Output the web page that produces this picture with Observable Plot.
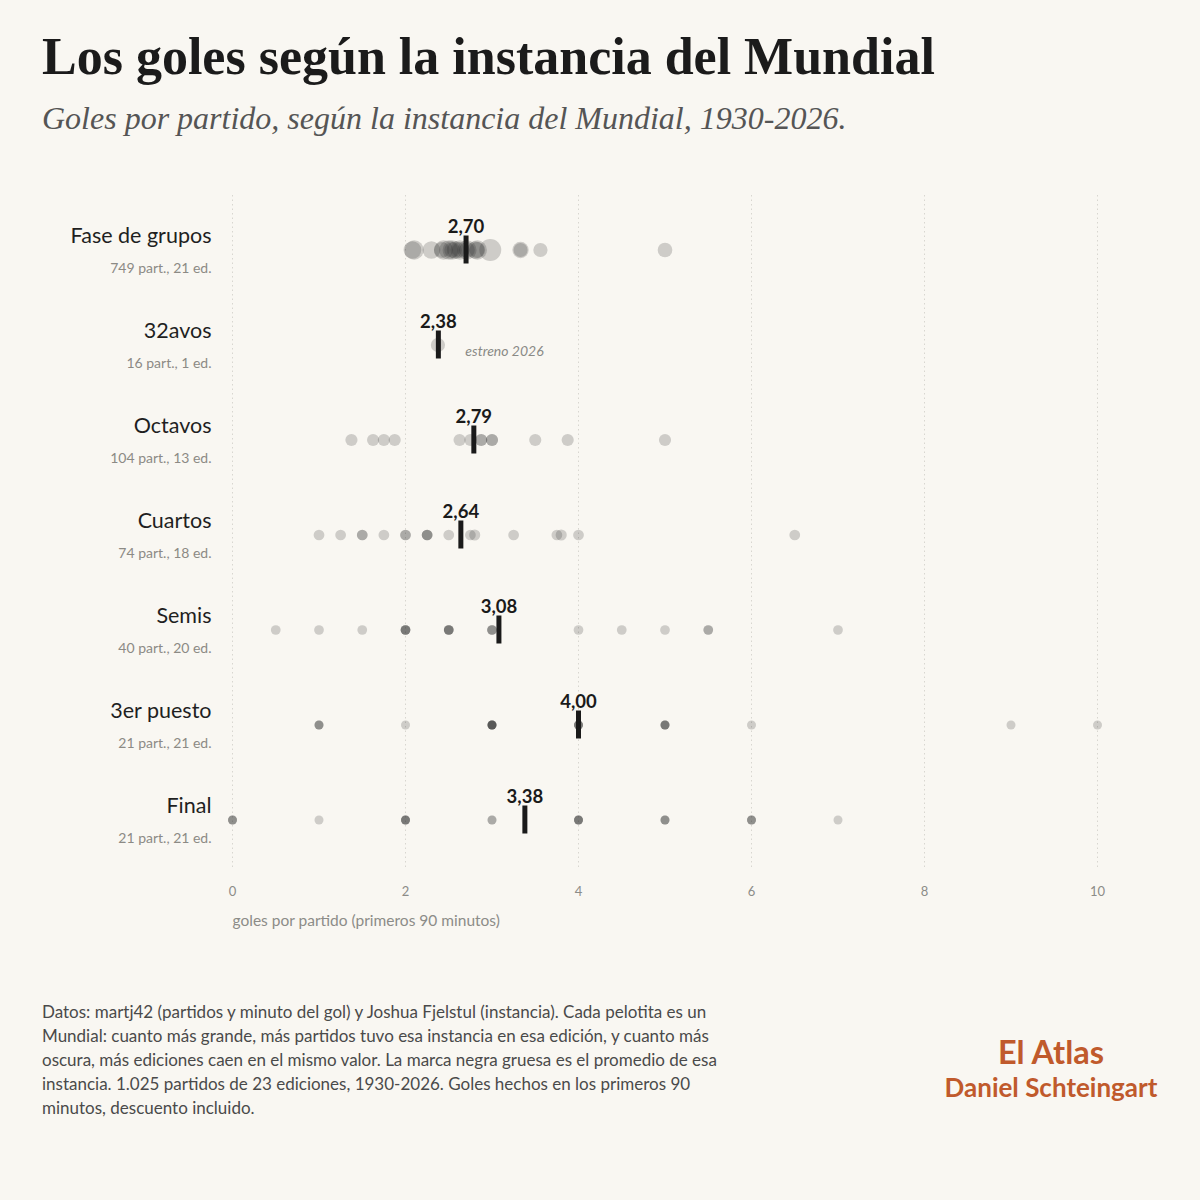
<!DOCTYPE html>
<html>
<head>
<meta charset="utf-8">
<script src="https://cdn.jsdelivr.net/npm/d3@7"></script>
<script src="https://cdn.jsdelivr.net/npm/@observablehq/plot@0.6"></script>
<style>
  html, body { margin: 0; padding: 0; background: #f9f7f2; }
  #page { position: relative; width: 1200px; height: 1200px; background: #f9f7f2; overflow: hidden; }
  .title { position: absolute; left: 42px; top: 31px; font-family: "Liberation Serif", serif; font-weight: 700; font-size: 52px; line-height: 1; color: #1b1b1b; white-space: nowrap; }
  .subtitle { position: absolute; left: 42px; top: 102px; font-family: "Liberation Serif", serif; font-style: italic; font-size: 32px; line-height: 1; color: #555; white-space: nowrap; }
  #chart { position: absolute; left: 0; top: 160px; }
  .caption { position: absolute; left: 42px; top: 1000px; width: 740px; font-family: Lato, sans-serif; font-size: 17px; line-height: 24px; color: #4a4a4a; white-space: nowrap; }
  .brand { position: absolute; left: 920px; width: 262px; text-align: center; font-family: Lato, sans-serif; font-weight: 700; color: #c05a2c; white-space: nowrap; }
</style>
</head>
<body>
<div id="page">
  <div class="title">Los goles según la instancia del Mundial</div>
  <div class="subtitle">Goles por partido, según la instancia del Mundial, 1930-2026.</div>
  <div id="chart"></div>
  <div class="caption">Datos: martj42 (partidos y minuto del gol) y Joshua Fjelstul (instancia). Cada pelotita es un<br>Mundial: cuanto más grande, más partidos tuvo esa instancia en esa edición, y cuanto más<br>oscura, más ediciones caen en el mismo valor. La marca negra gruesa es el promedio de esa<br>instancia. 1.025 partidos de 23 ediciones, 1930-2026. Goles hechos en los primeros 90<br>minutos, descuento incluido.</div>
  <div class="brand" style="top:1033px;font-size:32.5px;line-height:38px;">El Atlas</div>
  <div class="brand" style="top:1072px;font-size:26px;line-height:30px;">Daniel Schteingart</div>
</div>
<script>
// Stages and labels
const stages = ["Fase de grupos", "32avos", "Octavos", "Cuartos", "Semis", "3er puesto", "Final"];
const stageNotes = ["749 part., 21 ed.", "16 part., 1 ed.", "104 part., 13 ed.", "74 part., 18 ed.", "40 part., 20 ed.", "21 part., 21 ed.", "21 part., 21 ed."];
const stageMeans = [2.70, 2.38, 2.79, 2.64, 3.08, 4.00, 3.38];
const xTicks = [0, 2, 4, 6, 8, 10];

// Goals per match per edition (one dot per World Cup) and matches played in that stage
const gruposGoles    = [3.33, 3.56, 5.00, 3.33, 2.71, 2.42, 2.54, 2.63, 2.83, 2.81, 2.30, 2.08, 2.58, 2.63, 2.71, 2.44, 2.10, 2.83, 2.54, 2.50, 2.98];
const gruposPartidos = [15, 16, 18, 27, 24, 24, 24, 24, 24, 36, 36, 36, 36, 48, 48, 48, 48, 48, 48, 48, 72];
const avos32Goles    = [2.375];
const avos32Partidos = [16];
const octavosGoles   = [1.375, 1.625, 1.75, 1.875, 2.625, 2.75, 2.875, 2.875, 3.0, 3.0, 3.5, 3.875, 5.0];
const octavosPartidos = [8, 8, 8, 8, 8, 8, 8, 8, 8, 8, 8, 8, 8];
const cuartosGoles   = [1.0, 1.25, 1.5, 1.5, 1.75, 2.0, 2.0, 2.25, 2.25, 2.25, 2.5, 2.75, 2.8, 3.25, 3.75, 3.8, 4.0, 6.5];
const cuartosPartidos = [4, 4, 4, 4, 4, 4, 4, 4, 4, 4, 4, 4, 5, 4, 4, 5, 4, 4];
const semisGoles     = [0.5, 1, 1.5, 2, 2, 2, 2, 2.5, 2.5, 2.5, 2.5, 3, 3, 3, 4, 4.5, 5, 5.5, 5.5, 7];
const semisPartidos  = semisGoles.map(() => 2);
const tercerGoles    = [1, 1, 1, 2, 3, 3, 3, 3, 3, 3, 4, 4, 4, 4, 5, 5, 5, 5, 6, 9, 10];
const tercerPartidos = tercerGoles.map(() => 1);
const finalGoles     = [0, 0, 0, 1, 2, 2, 2, 2, 3, 3, 4, 4, 4, 4, 5, 5, 5, 6, 6, 6, 7];
const finalPartidos  = finalGoles.map(() => 1);

const series = [
  [gruposGoles, gruposPartidos], [avos32Goles, avos32Partidos], [octavosGoles, octavosPartidos],
  [cuartosGoles, cuartosPartidos], [semisGoles, semisPartidos], [tercerGoles, tercerPartidos], [finalGoles, finalPartidos]
];
const dots = series.flatMap(([g, p], i) => g.map((v, j) => ({stage: stages[i], goles: v, partidos: p[j]})));
const rows = stages.map((s, i) => ({stage: s, note: stageNotes[i], mean: stageMeans[i]}));
const fmt = v => v.toFixed(2).replace(".", ",");

const sans = "Lato, sans-serif";
const chart = Plot.plot({
  width: 1200,
  height: 800,
  marginLeft: 232,
  marginRight: 103,
  marginTop: 35,
  marginBottom: 90,
  style: {background: "transparent", fontFamily: sans},
  x: {domain: [0, 10], ticks: xTicks},
  y: {type: "band", domain: stages, range: [41.5, 706.5], padding: 0, axis: null},
  r: {type: "sqrt", domain: [1, 72], range: [4.5, 11]},
  marks: [
    Plot.ruleX(xTicks, {stroke: "#d8d6d0", strokeWidth: 1, strokeDasharray: "1.5,3"}),
    Plot.axisX({ticks: xTicks, tickSize: 0, tickPadding: 16, fontSize: 13, color: "#8c8c88", label: null, tickFormat: d => String(d)}),
    Plot.text(["goles por partido (primeros 90 minutos)"], {frameAnchor: "bottom-left", dy: 55, textAnchor: "start", fontSize: 15.5, fill: "#8c8c88"}),
    Plot.dot(dots, {x: "goles", y: "stage", r: "partidos", fill: "#222", fillOpacity: 0.2, stroke: "none"}),
    Plot.tickX(rows, {x: "mean", y: "stage", stroke: "#1a1a1a", strokeWidth: 5, insetTop: 33.5, insetBottom: 33.5}),
    Plot.text(rows, {x: "mean", y: "stage", text: d => fmt(d.mean), dy: -23, fontSize: 18.5, fontWeight: 700, fill: "#1a1a1a"}),
    Plot.text(rows.filter(d => d.stage === "32avos"), {x: "mean", y: "stage", text: () => "estreno 2026", dx: 27, dy: 7, textAnchor: "start", fontStyle: "italic", fontSize: 14, fill: "#8a8a86"}),
    Plot.text(rows, {y: "stage", text: "stage", frameAnchor: "left", dx: -21, dy: -14, textAnchor: "end", fontSize: 21.5, fill: "#1f1f1f"}),
    Plot.text(rows, {y: "stage", text: "note", frameAnchor: "left", dx: -21, dy: 19, textAnchor: "end", fontSize: 14, fill: "#8c8a85"})
  ]
});
document.getElementById("chart").appendChild(chart);
</script>
</body>
</html>
